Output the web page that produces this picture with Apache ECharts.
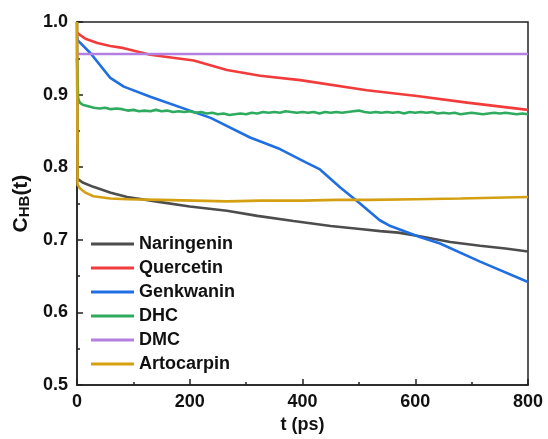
<!DOCTYPE html>
<html>
<head>
<meta charset="utf-8">
<script src="https://cdn.jsdelivr.net/npm/echarts@6/dist/echarts.min.js"></script>
<style>
  html, body { margin: 0; padding: 0; background: #fff; }
  #chart { width: 548px; height: 439px; }
</style>
</head>
<body>
<div id="chart"></div>
<script>
// 数据
const seriesNames = ['Naringenin', 'Quercetin', 'Genkwanin', 'DHC', 'DMC', 'Artocarpin']
const seriesColors = ['#4d4d4d', '#f23c3c', '#1f6fe3', '#2fab5f', '#b47fe2', '#d4a012']

const xTicks = [0, 200, 400, 600, 800]
const yTicks = [0.5, 0.6, 0.7, 0.8, 0.9, 1.0]

const naringeninT = [0, 1, 10, 29, 60, 89, 148, 200, 266, 320, 384, 450, 502, 538, 570, 608, 662, 715, 760, 800]
const naringeninY = [1.0, 0.784, 0.779, 0.773, 0.765, 0.759, 0.752, 0.746, 0.740, 0.733, 0.726, 0.719, 0.715, 0.712, 0.710, 0.705, 0.697, 0.692, 0.688, 0.684]

const quercetinT = [0, 1, 15, 36, 59, 83, 130, 207, 266, 325, 396, 514, 603, 692, 800]
const quercetinY = [0.985, 0.983, 0.977, 0.971, 0.967, 0.964, 0.955, 0.947, 0.934, 0.926, 0.920, 0.906, 0.898, 0.889, 0.879]

const genkwaninT = [0, 1, 24, 59, 83, 130, 237, 307, 360, 405, 431, 467, 502, 537, 556, 608, 644, 715, 800]
const genkwaninY = [0.98, 0.975, 0.957, 0.923, 0.911, 0.897, 0.868, 0.841, 0.825, 0.807, 0.797, 0.772, 0.750, 0.727, 0.719, 0.704, 0.695, 0.670, 0.642]

const dhcT = [0, 2, 5, 10, 20, 30, 40, 50, 60, 70, 80, 90, 100, 110, 120, 130, 140, 150, 160, 170, 180, 190, 200,
  210, 220, 230, 240, 250, 260, 270, 280, 290, 300, 310, 320, 330, 340, 350, 360, 370, 380, 390, 400,
  410, 420, 430, 440, 450, 460, 470, 480, 490, 500, 510, 520, 530, 540, 550, 560, 570, 580, 590, 600,
  610, 620, 630, 640, 650, 660, 670, 680, 690, 700, 710, 720, 730, 740, 750, 760, 770, 780, 790, 800]
const dhcY = [0.95, 0.895, 0.889, 0.886, 0.884, 0.882, 0.881, 0.882, 0.880, 0.881, 0.880, 0.878, 0.879, 0.877, 0.878, 0.877, 0.879, 0.877, 0.878, 0.876, 0.877, 0.876, 0.877,
  0.875, 0.876, 0.874, 0.875, 0.873, 0.874, 0.872, 0.873, 0.874, 0.873, 0.875, 0.874, 0.876, 0.875, 0.876, 0.875, 0.877, 0.876, 0.875, 0.876,
  0.875, 0.876, 0.874, 0.876, 0.875, 0.876, 0.875, 0.876, 0.877, 0.878, 0.876, 0.875, 0.876, 0.875, 0.876, 0.875, 0.876, 0.874, 0.876, 0.875,
  0.876, 0.875, 0.876, 0.874, 0.875, 0.874, 0.875, 0.873, 0.874, 0.875, 0.874, 0.873, 0.874, 0.875, 0.874, 0.875, 0.874, 0.873, 0.874, 0.873]

const dmcT = [0, 200, 400, 600, 800]
const dmcY = [0.956, 0.956, 0.956, 0.956, 0.956]

const artocarpinT = [0, 1, 5, 15, 29, 59, 89, 148, 207, 266, 325, 400, 460, 520, 600, 680, 740, 800]
const artocarpinY = [1.0, 0.776, 0.771, 0.765, 0.760, 0.757, 0.756, 0.755, 0.754, 0.753, 0.754, 0.754, 0.755, 0.755, 0.756, 0.757, 0.758, 0.759]

const allT = [naringeninT, quercetinT, genkwaninT, dhcT, dmcT, artocarpinT]
const allY = [naringeninY, quercetinY, genkwaninY, dhcY, dmcY, artocarpinY]

const fontFamily = '"Liberation Sans", Arial, sans-serif'

const chart = echarts.init(document.getElementById('chart'), null, { renderer: 'canvas' })

const series = seriesNames.map((name, i) => ({
  name: name,
  type: 'line',
  data: allT[i].map((t, k) => [t, allY[i][k]]),
  showSymbol: false,
  symbol: 'none',
  lineStyle: { color: seriesColors[i], width: 2.6 },
  itemStyle: { color: seriesColors[i] },
  animation: false
}))

chart.setOption({
  animation: false,
  grid: {
    left: 77, right: 20, top: 22, bottom: 52,
    show: true, borderColor: '#222', borderWidth: 1.5, backgroundColor: 'transparent'
  },
  legend: {
    orient: 'vertical',
    left: 86, top: 230,
    icon: 'rect',
    itemWidth: 43, itemHeight: 3,
    itemGap: 6,
    textStyle: { fontSize: 18, fontWeight: 'bold', color: '#111', fontFamily: fontFamily },
    data: seriesNames
  },
  xAxis: {
    type: 'value',
    min: xTicks[0], max: xTicks[xTicks.length - 1], interval: 200,
    name: 't (ps)', nameLocation: 'middle', nameGap: 30,
    nameTextStyle: { fontSize: 18, fontWeight: 'bold', color: '#111', fontFamily: fontFamily },
    axisLine: { lineStyle: { color: '#222', width: 1.5 } },
    axisTick: { inside: true, length: 6, lineStyle: { color: '#222', width: 1.5 } },
    minorTick: { show: true, splitNumber: 2, length: 3, lineStyle: { color: '#222', width: 1.5 } },
    axisLabel: { margin: 8, fontSize: 18, fontWeight: 'bold', color: '#111', fontFamily: fontFamily },
    splitLine: { show: false }
  },
  yAxis: {
    type: 'value',
    min: yTicks[0], max: yTicks[yTicks.length - 1], interval: 0.1,
    name: '{c|C}{s|HB}{c|(t)}', nameLocation: 'middle', nameGap: 42, nameRotate: 90,
    nameTextStyle: {
      fontFamily: fontFamily, color: '#111',
      rich: {
        c: { fontSize: 21, fontWeight: 'bold', fontFamily: fontFamily, color: '#111' },
        s: { fontSize: 15, fontWeight: 'bold', fontFamily: fontFamily, color: '#111', verticalAlign: 'bottom', padding: [6, 0, 0, 0] }
      }
    },
    axisLine: { lineStyle: { color: '#222', width: 1.5 } },
    axisTick: { inside: true, length: 6, lineStyle: { color: '#222', width: 1.5 } },
    minorTick: { show: true, splitNumber: 2, length: 3, lineStyle: { color: '#222', width: 1.5 } },
    axisLabel: {
      margin: 9, fontSize: 18, fontWeight: 'bold', color: '#111', fontFamily: fontFamily,
      formatter: v => v.toFixed(1)
    },
    splitLine: { show: false }
  },
  series: series
})
</script>
</body>
</html>
